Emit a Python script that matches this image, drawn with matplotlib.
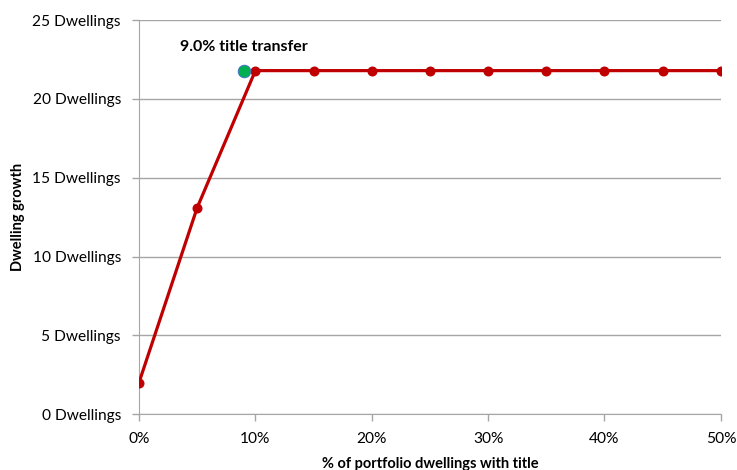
import matplotlib.pyplot as plt
from matplotlib.ticker import FuncFormatter

plt.rcParams['font.family'] = ['Lato', 'DejaVu Sans']

pct_with_title = [0, 5, 10, 15, 20, 25, 30, 35, 40, 45, 50]
dwelling_growth = [2.0, 13.1, 21.8, 21.8, 21.8, 21.8, 21.8, 21.8, 21.8, 21.8, 21.8]

transfer_pct = 9.0
transfer_growth = 21.8

fig = plt.figure(figsize=(7.37, 4.70), dpi=100)
ax = fig.add_axes([0.1886, 0.119, 0.7895, 0.838])

ax.plot(pct_with_title, dwelling_growth, color='#C00000', linewidth=2.3,
        marker='o', markersize=6.2, markerfacecolor='#C00000',
        markeredgecolor='#C00000', zorder=3)
ax.plot([transfer_pct], [transfer_growth], marker='o', markersize=9,
        markerfacecolor='#00B050', markeredgecolor='#4472C4',
        markeredgewidth=0.7, linestyle='none', zorder=4)
ax.annotate(f"{transfer_pct:.1f}% title transfer", (transfer_pct, transfer_growth),
            xytext=(0, 17), textcoords='offset points', ha='center',
            va='center', fontsize=11.5, fontweight='bold')

ax.set_xlim(0, 50)
ax.set_ylim(0, 25)
ax.set_xticks(range(0, 51, 10))
ax.set_yticks(range(0, 26, 5))
ax.xaxis.set_major_formatter(FuncFormatter(lambda v, p: f"{v:.0f}%"))
ax.yaxis.set_major_formatter(FuncFormatter(lambda v, p: f"{v:.0f} Dwellings"))

ax.grid(axis='y', color='#A6A6A6', linewidth=1)
ax.set_axisbelow(True)
for side in ['top', 'right']:
    ax.spines[side].set_visible(False)
for side in ['left', 'bottom']:
    ax.spines[side].set_color('#A6A6A6')
ax.tick_params(colors='#A6A6A6', labelcolor='black', labelsize=11.2,
               length=5, width=1)
ax.tick_params(axis='x', pad=8)
ax.tick_params(axis='y', pad=8)

ax.set_xlabel("% of portfolio dwellings with title", fontsize=10.5,
              fontweight='bold', labelpad=8)
ax.set_ylabel("Dwelling growth", fontsize=10.5, fontweight='bold', labelpad=5)

fig.savefig('out.png', dpi=100)
